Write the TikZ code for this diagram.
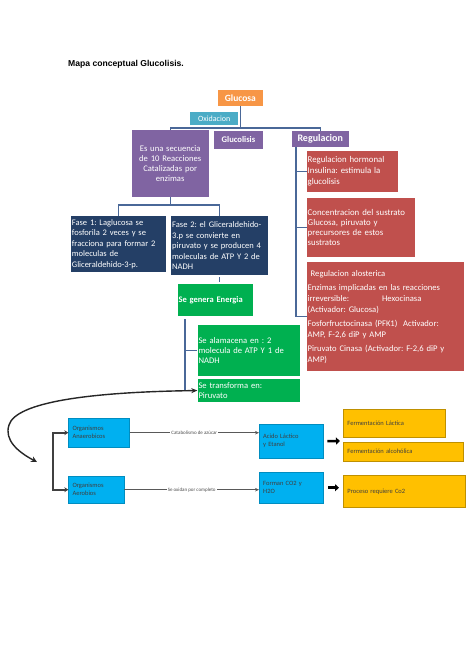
\documentclass[tikz,border=0pt]{standalone}
\usepackage{fontspec}
\setmainfont{Carlito}
\newfontfamily\titlefont{Liberation Sans}
\usetikzlibrary{arrows.meta}
\frenchspacing
\definecolor{cOrange}{HTML}{F79646}
\definecolor{cTeal}{HTML}{4BACC6}
\definecolor{cPurple}{HTML}{8064A2}
\definecolor{cRed}{HTML}{C0504D}
\definecolor{cNavy}{HTML}{243F66}
\definecolor{cGreen}{HTML}{00B050}
\definecolor{cLine}{HTML}{4A6898}
\definecolor{cCyan}{HTML}{00B0F0}
\definecolor{cYellow}{HTML}{FFC000}
\definecolor{cYellowB}{HTML}{BF9000}
\definecolor{cDark}{HTML}{404040}
\tikzset{
  boxbase/.style={anchor=north west, inner xsep=1pt, inner ysep=0pt, text=white, draw=none},
  centerbox/.style={boxbase, align=center},
  leftbox/.style={boxbase, align=left},
  treeline/.style={draw=cLine, line width=1.3pt},
  lowbox/.style={anchor=north west, fill=cCyan, draw=cCyan!80!black, line width=0.4pt, inner xsep=4pt, inner ysep=0pt, align=left, text=cDark, font=\fontsize{6.5}{8}\selectfont},
  yelbox/.style={anchor=north west, fill=cYellow, draw=cYellowB, line width=0.8pt, inner xsep=4pt, inner ysep=0pt, align=left, text=cDark, font=\fontsize{6.5}{8}\selectfont},
  thinarrow/.style={draw=gray!70!black, line width=0.6pt, -{Stealth[length=4pt,width=3.5pt]}},
  fatarrow/.style={draw=black, line width=2.6pt, -{Triangle[length=4pt,width=7pt]}},
  bracketarrow/.style={draw=cDark, line width=2pt, -{Stealth[length=4pt,width=5pt]}},
  edgelbl/.style={font=\fontsize{5}{6}\selectfont, text=gray!60!black, fill=white, inner sep=1pt}
}
\begin{document}
\begin{tikzpicture}[x=1pt,y=-1pt]
\useasboundingbox (0,0) rectangle (474,670);
\fill[white] (0,0) rectangle (474,670);

\node[anchor=base west, inner sep=0pt, font=\titlefont\bfseries\fontsize{8.6}{10}\selectfont] (title) at (68,66) {Mapa conceptual Glucolisis.};

% top
\node[centerbox, fill=cOrange, minimum width=45pt, minimum height=15.5pt, font=\bfseries\fontsize{9.5}{11}\selectfont] (glucosa) at (217.7,90) {Glucosa};
\node[centerbox, fill=cTeal, minimum width=48pt, minimum height=13.3pt, font=\fontsize{8}{9}\selectfont] (oxid) at (190,111.7) {Oxidacion};
\node[centerbox, fill=cPurple, text width=74.6pt, minimum height=66.7pt, font=\fontsize{8.6}{10}\selectfont] (seq) at (131.7,130) {Es una secuencia\\de 10 Reacciones\\Catalizadas por\\enzimas};
\node[centerbox, fill=cPurple, minimum width=49.5pt, minimum height=18pt, font=\bfseries\fontsize{8.6}{10}\selectfont] (gluco) at (213.5,130.7) {Glucolisis};
\node[centerbox, fill=cPurple, minimum width=56.6pt, minimum height=16pt, font=\bfseries\fontsize{10}{12}\selectfont] (regul) at (291.7,130.7) {Regulacion};

% red boxes
\node[leftbox, fill=cRed, text width=89.2pt, minimum height=40.7pt, font=\fontsize{8.8}{11}\selectfont] (r1) at (306.5,151) {Regulacion hormonal\\Insulina: estimula la\\glucolisis};
\node[leftbox, fill=cRed, text width=106.5pt, minimum height=59.4pt, font=\fontsize{8.8}{10}\selectfont] (r2) at (306.5,197.3) {Concentracion del sustrato\\Glucosa, piruvato y\\precursores de estos\\sustratos};
\node[leftbox, fill=cRed, text width=155pt, minimum height=109pt, font=\fontsize{8.6}{11}\selectfont] (r3) at (306.5,262) {\hspace{3pt}Regulacion alosterica\\[3pt]Enzimas implicadas en las reacciones\\irreversible:\hspace{33pt}Hexocinasa\\(Activador: Glucosa)\\[3pt]Fosforfructocinasa (PFK1)\ \ Activador:\\AMP, F-2,6 diP y AMP\\[3pt]Piruvato Cinasa (Activador: F-2,6 diP y\\AMP)};

% fase boxes
\node[leftbox, fill=cNavy, text width=93.3pt, minimum height=55.7pt, font=\fontsize{8.5}{10.4}\selectfont] (fase1) at (70.7,216) {Fase 1: Laglucosa se\\fosforila 2 veces y se\\fracciona para formar 2\\moleculas de\\Gliceraldehido-3-p.};
\node[leftbox, fill=cNavy, text width=95pt, minimum height=59pt, font=\fontsize{8.5}{10.4}\selectfont] (fase2) at (171,216) {Fase 2: el Gliceraldehido-\\3.p se convierte en\\piruvato y se producen 4\\moleculas de ATP Y 2 de\\NADH\\[5pt]};

% green boxes
\node[leftbox, fill=cGreen, text width=73pt, minimum height=32pt, font=\bfseries\fontsize{8.5}{10}\selectfont] (energia) at (177.3,284) {Se genera Energia};
\node[leftbox, fill=cGreen, text width=100pt, minimum height=51pt, font=\fontsize{8.6}{10}\selectfont] (alma) at (197.3,325) {Se alamacena en : 2\\molecula de ATP Y 1 de\\NADH};
\node[leftbox, fill=cGreen, text width=100pt, minimum height=22.7pt, font=\fontsize{8.6}{10}\selectfont] (transf) at (197.3,379) {Se transforma en:\\Piruvato};

% tree lines
\coordinate (hy) at (0,128);
\draw[treeline] (glucosa.south) -- (glucosa.south |- hy);
\draw[treeline] (seq.north) |- (hy -| regul.north) -- (regul.north);
\coordinate (hy2) at (0,205);
\draw[treeline] (seq.south) -- (seq.south |- hy2);
\draw[treeline] (fase1.north) |- (hy2 -| fase2.north) -- (fase2.north);
\draw[treeline, shorten <=2pt, shorten >=2pt] (fase2.south) -- (fase2.south |- energia.north);
\coordinate (ev) at (185,319);
\draw[treeline] (ev) |- (transf.west);
\draw[treeline] (ev |- alma.west) -- (alma.west);
\coordinate (rv) at (296,146.7);
\draw[treeline] (rv) |- (r3.west);
\draw[treeline] (rv |- r1.west) -- (r1.west);
\draw[treeline] (rv |- r2.west) -- (r2.west);

% lower part
\node[lowbox, text width=53pt, minimum height=29pt] (anaer) at (68.3,418) {Organismos\\Anaerobicos};
\node[lowbox, text width=47.7pt, minimum height=27pt] (aerob) at (68.3,476) {Organismos\\Aerobios};
\node[lowbox, text width=56pt, minimum height=34pt] (acido) at (259,424) {Acido L\'actico\\y Etanol};
\node[lowbox, text width=56pt, minimum height=31pt] (forman) at (259,472) {Forman CO2 y\\H2O};
\node[yelbox, text width=94pt, minimum height=28pt] (fl) at (343,409) {Fermentaci\'on L\'actica\\[8pt]};
\node[yelbox, text width=112pt, minimum height=19.3pt] (fa) at (343,441.7) {Fermentaci\'on alcoh\'olica};
\node[yelbox, text width=114pt, minimum height=32pt] (proc) at (343,475) {Proceso requiere Co2\\[10pt]};

\draw[thinarrow] (anaer.east) -- node[edgelbl]{Catabolismo de az\'ucar} (anaer.east -| acido.west);
\draw[thinarrow] (aerob.east) -- node[edgelbl]{Se oxidan por completo} (aerob.east -| forman.west);
\coordinate (fgap) at (340,441);
\draw[fatarrow, shorten <=4pt] (acido.east) -- (fgap);
\draw[fatarrow, shorten <=5pt, shorten >=4pt] (forman.east) -- (forman.east -| proc.west);

\coordinate (bmid) at (53,461);
\draw[bracketarrow] (bmid) |- (anaer.west);
\draw[bracketarrow] (bmid) |- (aerob.west);

\coordinate (cend) at (37,462);
\draw[draw=black!85, line width=1.4pt, {Stealth[length=6pt,width=6pt]}-{Stealth[length=6pt,width=5pt]}] (cend) .. controls (18,452) and (4,440) .. (9,425) .. controls (16,402) and (90,392) .. (transf.west);
\end{tikzpicture}
\end{document}
